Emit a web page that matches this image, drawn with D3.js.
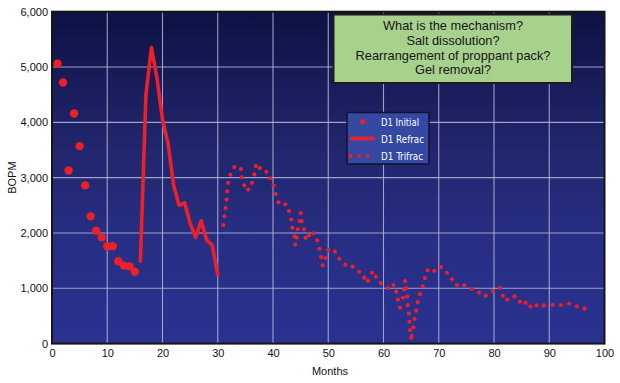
<!DOCTYPE html>
<html><head><meta charset="utf-8">
<script src="https://cdn.jsdelivr.net/npm/d3@7"></script>
<style>html,body{margin:0;padding:0;background:#fff;}svg{display:block;}</style>
</head><body><svg id="c" width="620" height="383"></svg>
<script>
const initialMonths = [1,2,3,4,5,6,7,8,9,10,11,12,13,14,15];
const initialValues = [5060,4720,3130,4160,3570,2860,2300,2040,1920,1760,1760,1490,1410,1400,1300];
const refracMonths = [16,17,18,19,20,21,22,23,24,25,26,27,28,29,30];
const refracValues = [1490,4500,5350,4800,4050,3620,2870,2500,2545,2175,1920,2220,1870,1780,1240];
const trifracMonths = [31.0,31.2,31.4,31.6,31.7,31.9,32.3,33.0,34.2,34.4,34.8,35.5,36.2,36.6,36.9,37.6,38.8,39.5,40.1,40.5,41.0,42.2,42.9,43.3,43.5,43.9,44.0,44.3,44.5,44.8,45.0,45.2,45.6,45.9,46.5,47.3,48.0,48.4,48.7,49.0,49.5,50.0,51.2,52.0,53.1,54.4,55.6,56.5,57.2,57.9,58.6,59.5,60.8,61.8,62.3,62.6,63.0,63.5,63.7,63.9,64.1,64.3,64.4,64.6,64.7,64.8,65.1,65.0,65.4,65.6,65.9,66.2,66.6,67.1,67.5,68.0,69.2,70.4,71.5,72.4,73.3,74.6,76.0,77.3,78.5,79.8,81.1,81.6,82.4,83.7,84.7,85.7,86.6,87.7,89.0,90.6,92.1,93.6,95.0,96.4];
const trifracValues = [2143,2300,2450,2604,2752,2907,3052,3191,3155,3007,2862,2785,2907,3059,3209,3173,3106,2989,2857,2703,2555,2519,2396,2243,2093,1939,1791,1917,2067,2215,2360,2212,2065,1912,1957,1993,1867,1715,1565,1415,1547,1691,1664,1534,1429,1393,1299,1191,1137,1281,1212,1095,1005,1059,938,793,649,829,981,1131,1005,851,694,544,394,246,137,105,295,445,595,748,893,1037,1185,1326,1316,1384,1281,1162,1059,1053,992,923,866,950,1010,866,793,855,757,739,667,692,685,698,698,721,674,631];
const xTicks = [0,10,20,30,40,50,60,70,80,90,100];
const yTicks = [0,1000,2000,3000,4000,5000,6000];
const noteLines = ["What is the mechanism?","Salt dissolution?","Rearrangement of proppant pack?","Gel removal?"];
const legendLabels = ["D1 Initial","D1 Refrac","D1 Trifrac"];

const RED = "#ec2028";
const svg = d3.select("#c");
const L = 52, R = 604.5, T = 11.7, B = 343.6;
const x = d3.scaleLinear().domain([0,100]).range([L,R]);
const y = d3.scaleLinear().domain([0,6000]).range([B,T]);

const defs = svg.append("defs");
const g = defs.append("linearGradient").attr("id","bg").attr("x1",0).attr("y1",0).attr("x2",0).attr("y2",1);
g.append("stop").attr("offset","0%").attr("stop-color","#0e1143");
g.append("stop").attr("offset","40%").attr("stop-color","#21266c");
g.append("stop").attr("offset","70%").attr("stop-color","#282e84");
g.append("stop").attr("offset","100%").attr("stop-color","#2a3290");

svg.append("rect").attr("x",L).attr("y",T).attr("width",R-L).attr("height",B-T).attr("fill","url(#bg)");

// grid
const grid = svg.append("g");
grid.selectAll("line.gx").data(xTicks.filter(d=>d>0&&d<100)).enter().append("line")
  .attr("x1",d=>x(d)).attr("x2",d=>x(d)).attr("y1",T).attr("y2",B)
  .attr("stroke","#b4b6d8").attr("stroke-width",1.1).attr("stroke-opacity",0.85);
grid.selectAll("line.gy").data(yTicks.filter(d=>d>0&&d<6000)).enter().append("line")
  .attr("x1",L).attr("x2",R).attr("y1",d=>y(d)).attr("y2",d=>y(d))
  .attr("stroke","#b4b6d8").attr("stroke-width",1.1).attr("stroke-opacity",0.85);

// frame
svg.append("rect").attr("x",L).attr("y",T).attr("width",R-L).attr("height",B-T)
  .attr("fill","none").attr("stroke","#161616").attr("stroke-width",2);

// axes
const fmt = d3.format(",");
const yAxis = d3.axisLeft(y).tickValues(yTicks).tickSize(0).tickPadding(4).tickFormat(fmt);
const ya = svg.append("g").attr("transform",`translate(${L},0)`).call(yAxis);
const xAxis = d3.axisBottom(x).tickValues(xTicks).tickSize(0).tickPadding(6).tickFormat(d3.format("d"));
const xa = svg.append("g").attr("transform",`translate(0,${B})`).call(xAxis);
[ya,xa].forEach(a=>{a.select(".domain").remove();
  a.selectAll("text").attr("font-family","Liberation Sans, Arial, sans-serif").attr("font-size",11).attr("fill","#111");});

svg.append("text").attr("x",330).attr("y",374.5).attr("text-anchor","middle")
  .attr("font-family","Liberation Sans, Arial, sans-serif").attr("font-size",11).attr("fill","#111").text("Months");
svg.append("text").attr("transform",`translate(15.5,${(T+B)/2}) rotate(-90)`).attr("text-anchor","middle")
  .attr("font-family","Liberation Sans, Arial, sans-serif").attr("font-size",11).attr("fill","#111").text("BOPM");

// data
const plot = svg.append("g");
const line = d3.line().x((d,i)=>x(refracMonths[i])).y(d=>y(d));
plot.append("path").attr("d",line(refracValues)).attr("fill","none").attr("stroke",RED)
  .attr("stroke-width",3.6).attr("stroke-linejoin","round").attr("stroke-linecap","round");
plot.selectAll("circle.tri").data(trifracValues).enter().append("circle")
  .attr("cx",(d,i)=>x(trifracMonths[i])).attr("cy",d=>y(d)).attr("r",2.1).attr("fill",RED);
plot.selectAll("circle.ini").data(initialValues).enter().append("circle")
  .attr("cx",(d,i)=>x(initialMonths[i])).attr("cy",d=>y(d)).attr("r",4.2).attr("fill",RED);

// note box
svg.append("rect").attr("x",333.5).attr("y",14.5).attr("width",238.5).attr("height",68.5)
  .attr("fill","#a8d18e").attr("stroke","#1c1c1c").attr("stroke-width",2);
svg.append("g").selectAll("text").data(noteLines).enter().append("text")
  .attr("x",453).attr("y",(d,i)=>30+i*14.8).attr("text-anchor","middle")
  .attr("font-family","Liberation Sans, Arial, sans-serif").attr("font-size",12.8).attr("fill","#161616").text(d=>d);

// legend
const lg = svg.append("g");
lg.append("rect").attr("x",347).attr("y",112.5).attr("width",82).attr("height",51.5)
  .attr("fill","#3549a3").attr("stroke","#10122e").attr("stroke-width",1.5);
const rowsY = [121.7,138.5,156];
const legendWidths = [38,43,42];
lg.append("circle").attr("cx",362.7).attr("cy",rowsY[0]).attr("r",2.6).attr("fill",RED);
lg.append("line").attr("x1",350).attr("x2",375).attr("y1",rowsY[1]).attr("y2",rowsY[1]).attr("stroke",RED).attr("stroke-width",3.6);
[350.5,359.3,367.8].forEach(cx=>lg.append("circle").attr("cx",cx).attr("cy",rowsY[2]).attr("r",2).attr("fill",RED));
lg.selectAll("text").data(legendLabels).enter().append("text")
  .attr("x",381).attr("y",(d,i)=>rowsY[i]+4).attr("font-family","DejaVu Sans Condensed, Liberation Sans Narrow, Arial, sans-serif")
  .attr("font-size",11).attr("fill","#fff")
  .attr("textLength",(d,i)=>legendWidths[i]).attr("lengthAdjust","spacingAndGlyphs").text(d=>d);
</script></body></html>
